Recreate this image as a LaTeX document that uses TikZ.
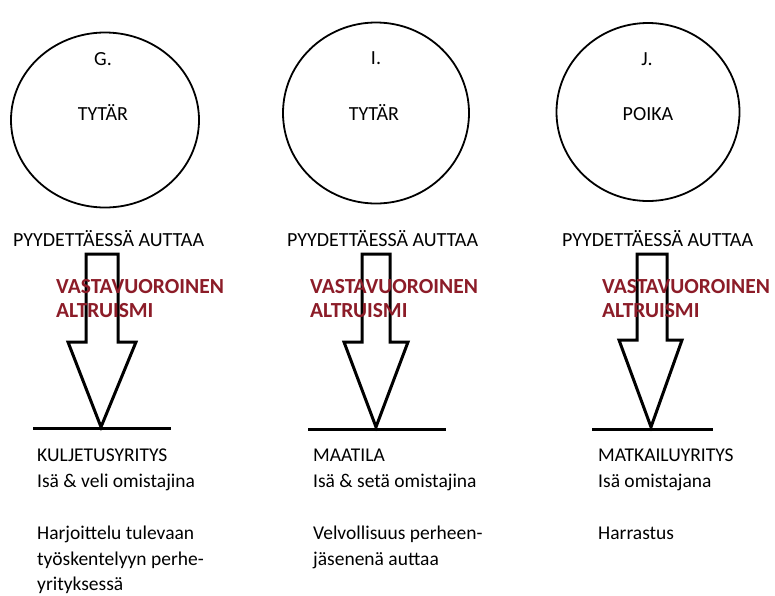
\documentclass[tikz,border=0pt]{standalone}
\usepackage{fontspec}
\setmainfont{Carlito}
\usetikzlibrary{shapes.geometric}
\definecolor{altred}{RGB}{140,28,40}
\begin{document}
\begin{tikzpicture}[x=1pt,y=-1pt,
  person/.style={ellipse,draw,line width=1.8pt,inner sep=0pt},
  lbl/.style={font=\fontsize{20}{24}\selectfont,inner sep=0pt,anchor=base},
  ask/.style={font=\fontsize{20}{24}\selectfont,inner sep=0pt,anchor=base west},
  alt/.style={font=\bfseries\fontsize{21.5}{24}\selectfont,text=altred,inner sep=0pt,anchor=base west},
  info/.style={font=\fontsize{19.5}{26.4}\selectfont,inner sep=0pt,anchor=base west},
  bigarrow/.style={draw,line width=3pt,line join=miter},
  groundline/.style={draw,line width=3pt}]
\useasboundingbox[fill=white] (0,0) rectangle (775,595);

% persons
\node[person,minimum width=188pt,minimum height=175pt] (c1) at (105,120) {};
\node[person,minimum width=186pt,minimum height=181pt] (c2) at (376,113) {};
\node[person,minimum width=183pt,minimum height=178pt] (c3) at (648,112) {};
\node[lbl] (n1) at (103,65) {G.};
\node[lbl] (r1) at (103,120) {TYTÄR};
\node[lbl] (n2) at (376,64) {I.};
\node[lbl] (r2) at (374,120) {TYTÄR};
\node[lbl] (n3) at (647,65) {J.};
\node[lbl] (r3) at (648,120) {POIKA};

% ask labels
\node[ask] (a1) at (13,246) {PYYDETTÄESSÄ AUTTAA};
\node[ask] (a2) at (287,246) {PYYDETTÄESSÄ AUTTAA};
\node[ask] (a3) at (562,246) {PYYDETTÄESSÄ AUTTAA};

% arrows
\draw[bigarrow] (86,254) -- (118,254) -- (118,342) -- (136,342) -- (101,427) -- (68,342) -- (86,342) -- cycle;
\draw[bigarrow] (362,254) -- (390,254) -- (390,342) -- (408,342) -- (376,427) -- (344,342) -- (362,342) -- cycle;
\draw[bigarrow] (637,254) -- (667,254) -- (667,340) -- (682,340) -- (651,427) -- (619,340) -- (637,340) -- cycle;

% ground lines
\coordinate (g1w) at (33,428); \coordinate (g1e) at (171,428);
\coordinate (g2w) at (308,429); \coordinate (g2e) at (446,429);
\coordinate (g3w) at (592,429); \coordinate (g3e) at (713,429);
\draw[groundline] (g1w) -- (g1e);
\draw[groundline] (g2w) -- (g2e);
\draw[groundline] (g3w) -- (g3e);

% altruism labels
\node[alt] (v1a) at (56,293) {VASTAVUOROINEN};
\node[alt] (v1b) at (56,317) {ALTRUISMI};
\node[alt] (v2a) at (310,293) {VASTAVUOROINEN};
\node[alt] (v2b) at (310,317) {ALTRUISMI};
\node[alt] (v3a) at (602,293) {VASTAVUOROINEN};
\node[alt] (v3b) at (602,317) {ALTRUISMI};

% info
\node[info] (i1a) at (37,461) {KULJETUSYRITYS};
\node[info] (i1b) at (37,487) {Isä \& veli omistajina};
\node[info] (i1c) at (37,539) {Harjoittelu tulevaan};
\node[info] (i1d) at (37,565) {työskentelyyn perhe-};
\node[info] (i1e) at (37,590) {yrityksessä};
\node[info] (i2a) at (313,461) {MAATILA};
\node[info] (i2b) at (313,487) {Isä \& setä omistajina};
\node[info] (i2c) at (313,539) {Velvollisuus perheen-};
\node[info] (i2d) at (313,565) {jäsenenä auttaa};
\node[info] (i3a) at (598,461) {MATKAILUYRITYS};
\node[info] (i3b) at (598,487) {Isä omistajana};
\node[info] (i3c) at (598,539) {Harrastus};
\end{tikzpicture}
\end{document}
